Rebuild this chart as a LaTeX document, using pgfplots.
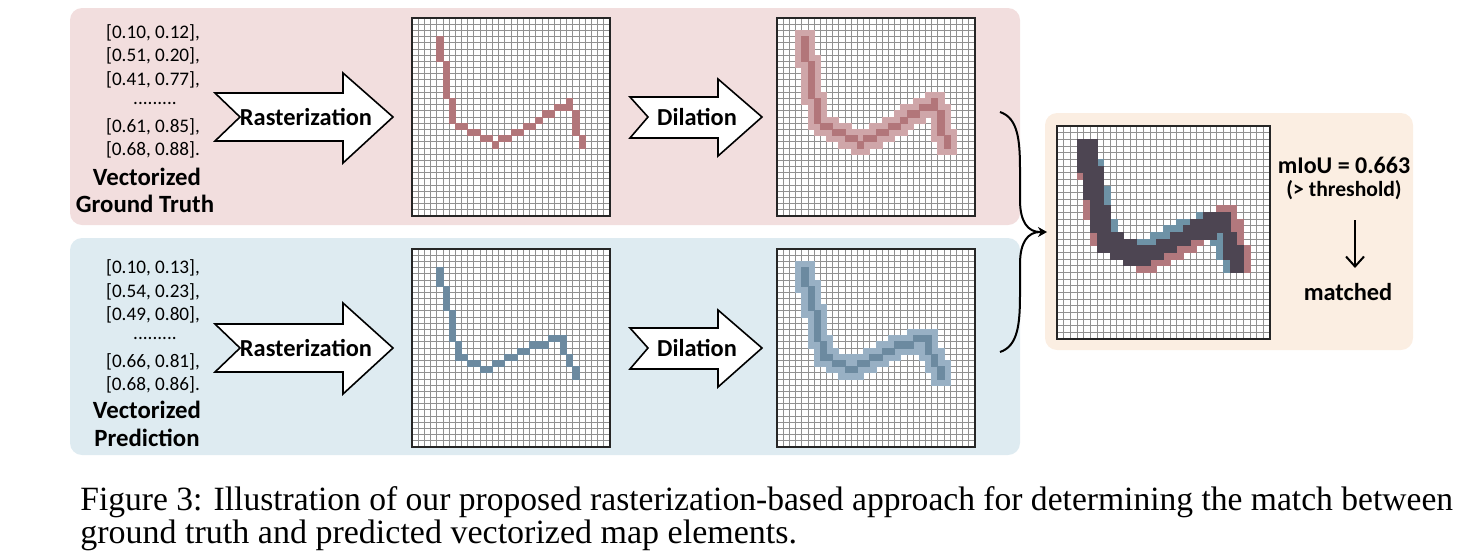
\documentclass[border=0pt]{standalone}
\usepackage{pgfplots}
\usepackage{pgfplotstable}
\pgfplotsset{compat=1.18}
\usetikzlibrary{arrows.meta}
\usepackage{fontspec}
\setmainfont{Carlito}
\newfontfamily\capfont{Liberation Serif}

\definecolor{pinkbg}{RGB}{242,222,222}
\definecolor{bluebg}{RGB}{222,235,241}
\definecolor{peachbg}{RGB}{251,238,226}
\definecolor{rred}{RGB}{178,118,122}
\definecolor{rblue}{RGB}{108,138,160}
\definecolor{lred}{RGB}{207,166,169}
\definecolor{lblue}{RGB}{152,176,196}
\definecolor{mred}{RGB}{178,120,125}
\definecolor{mblue}{RGB}{110,146,166}
\definecolor{mdark}{RGB}{77,69,82}
\definecolor{gridgray}{RGB}{145,145,145}

% rasterized ground truth (column, row)
\pgfplotstableread{
c r
4 3
4 4
4 5
4 6
5 7
5 8
5 9
5 10
5 11
5 12
6 13
6 14
6 15
6 16
7 17
8 17
9 18
10 18
11 19
12 19
13 20
14 19
15 19
16 18
17 18
18 17
19 17
20 16
21 15
22 15
23 14
24 14
25 13
25 14
26 15
26 16
26 17
26 18
27 19
27 20
}\gt

% rasterized prediction (column, row)
\pgfplotstableread{
c r
4 3
4 4
4 5
5 6
5 7
5 8
5 9
6 10
6 11
6 12
6 13
6 14
7 15
7 16
7 17
8 17
9 18
10 18
11 19
12 19
13 18
14 18
15 17
16 17
17 16
18 16
19 15
20 15
21 15
22 14
23 14
24 14
24 15
24 16
25 17
25 18
26 19
26 20
}\pred

% overlap of the two dilated masks
\pgfplotstableread{
c r
3 2
4 2
5 2
3 3
4 3
5 3
3 4
4 4
5 4
3 5
4 5
5 5
3 6
4 6
5 6
6 6
4 7
5 7
6 7
4 8
5 8
6 8
4 9
5 9
6 9
4 10
5 10
6 10
5 11
6 11
5 12
6 12
7 12
5 13
6 13
7 13
22 13
23 13
24 13
25 13
5 14
6 14
7 14
20 14
21 14
22 14
23 14
24 14
25 14
5 15
6 15
7 15
19 15
20 15
21 15
22 15
23 15
24 15
25 15
6 16
7 16
8 16
9 16
17 16
18 16
19 16
20 16
21 16
22 16
23 16
25 16
26 16
6 17
7 17
8 17
9 17
10 17
11 17
15 17
16 17
17 17
18 17
19 17
25 17
26 17
6 18
7 18
8 18
9 18
10 18
11 18
12 18
13 18
14 18
15 18
16 18
17 18
25 18
26 18
27 18
8 19
9 19
10 19
11 19
12 19
13 19
14 19
15 19
25 19
26 19
27 19
10 20
11 20
12 20
13 20
26 20
27 20
26 21
27 21
}\inter

\pgfplotsset{
  cellgrid/.style={
    scale only axis, width=#1, height=#1,
    xmin=-0.5, xmax=31.5, ymin=-0.5, ymax=31.5, y dir=reverse,
    enlargelimits=false,
    xtick={-0.5,0.5,...,31.5}, ytick={-0.5,0.5,...,31.5},
    xticklabels={}, yticklabels={},
    major tick length=0pt,
    grid=major, grid style={line width=0.42pt, draw=gridgray},
    axis line style={line width=1pt, draw=black!85},
    axis background/.style={fill=white},
    axis on top, anchor=north west, clip=true,
  },
  cells/.style n args={2}{only marks, mark=square*, mark size=#2,
    color=#1, mark options={draw=none, fill=#1}},
}

\begin{document}
\begin{tikzpicture}[x=0.5pt, y=-0.5pt]
\path[use as bounding box] (0,0) rectangle (1472,558);

% background panels
\fill[pinkbg, rounded corners=6pt] (70,8) rectangle (1020,225);
\fill[bluebg, rounded corners=6pt] (70,238) rectangle (1020,455);
\fill[peachbg, rounded corners=6pt] (1045,113) rectangle (1413,350);

% coordinate text
\begin{scope}[every node/.style={inner sep=0pt, font=\fontsize{9.6}{11}\selectfont}]
\node at (153,33) {[0.10, 0.12],};
\node at (153,56) {[0.51, 0.20],};
\node at (153,80) {[0.41, 0.77],};
\node at (155,103) {.........};
\node at (153,127) {[0.61, 0.85],};
\node at (153,150) {[0.68, 0.88].};
\node at (153,268) {[0.10, 0.13],};
\node at (153,292) {[0.54, 0.23],};
\node at (153,315) {[0.49, 0.80],};
\node at (155,338) {.........};
\node at (153,362) {[0.66, 0.81],};
\node at (153,385) {[0.68, 0.86].};
\end{scope}
\begin{scope}[every node/.style={inner sep=0pt, font=\bfseries\fontsize{12.4}{14}\selectfont}]
\node at (147,177) {Vectorized};
\node at (145,204) {Ground Truth};
\node at (147,410) {Vectorized};
\node at (147,438) {Prediction};
\end{scope}

% block arrows
\begin{scope}[draw=black, fill=white, line width=0.8pt, line join=miter]
\filldraw (215,93) -- (343,93) -- (343,73) -- (393,117) -- (343,163) -- (343,141) -- (215,141) -- (240,117) -- cycle;
\filldraw (215,324) -- (343,324) -- (343,303) -- (393,348) -- (343,394) -- (343,372) -- (215,372) -- (240,348) -- cycle;
\filldraw (630,97) -- (718,97) -- (718,79) -- (762,117) -- (718,156) -- (718,138) -- (630,138) -- (648,117) -- cycle;
\filldraw (630,328) -- (718,328) -- (718,310) -- (762,348) -- (718,387) -- (718,369) -- (630,369) -- (648,348) -- cycle;
\end{scope}
\begin{scope}[every node/.style={font=\bfseries\fontsize{12.2}{14}\selectfont}]
\node at (306,117) {Rasterization};
\node at (306,348) {Rasterization};
\node at (697,117) {Dilation};
\node at (697,348) {Dilation};
\end{scope}

% brace arrow
\draw[line width=1pt] (1000,112) .. controls (1018,118) and (1020,140) .. (1020,170) -- (1020,200) .. controls (1020,222) and (1028,232) .. (1040,232);
\draw[line width=1pt] (1000,352) .. controls (1018,346) and (1020,324) .. (1020,294) -- (1020,264) .. controls (1020,242) and (1028,232) .. (1040,232);
\draw[line width=1pt, -{Stealth[length=4.5pt, width=5pt]}] (1034,232) -- (1047,232);

% right-hand text
\node[font=\bfseries\fontsize{12}{14}\selectfont] at (1344,165) {mIoU = 0.663};
\node[font=\bfseries\fontsize{10.8}{13}\selectfont] at (1344,190) {(> threshold)};
\draw[line width=1pt, -{Straight Barb[length=5pt, width=9pt]}] (1355,220) -- (1355,268);
\node[font=\bfseries\fontsize{12.2}{14}\selectfont] at (1348,292) {matched};

% caption
\node[anchor=base west, inner sep=0pt, font=\capfont\fontsize{17}{20}\selectfont] at (80,510)
  {\scalebox{0.987}[1]{Figure 3: Illustration of our proposed rasterization-based approach for determining the match between}};
\node[anchor=base west, inner sep=0pt, font=\capfont\fontsize{17}{20}\selectfont] at (80,543)
  {ground truth and predicted vectorized map elements.};

% ---- grids ----
% GT raster
\begin{axis}[cellgrid=99pt, at={(206pt,-9pt)}]
\addplot[cells={rred}{1.546875pt}] table[x=c,y=r]{\gt};
\end{axis}
% GT dilation
\begin{axis}[cellgrid=99pt, at={(388.5pt,-9pt)}]
\addplot[cells={lred}{4.640625pt}] table[x=c,y=r]{\gt};
\addplot[cells={rred}{1.546875pt}] table[x=c,y=r]{\gt};
\end{axis}
% prediction raster
\begin{axis}[cellgrid=99pt, at={(206pt,-124.5pt)}]
\addplot[cells={rblue}{1.546875pt}] table[x=c,y=r]{\pred};
\end{axis}
% prediction dilation
\begin{axis}[cellgrid=99pt, at={(388.5pt,-124.5pt)}]
\addplot[cells={lblue}{4.640625pt}] table[x=c,y=r]{\pred};
\addplot[cells={rblue}{1.546875pt}] table[x=c,y=r]{\pred};
\end{axis}
% overlap
\begin{axis}[cellgrid=106.5pt, at={(528.5pt,-63pt)}]
\addplot[cells={mred}{4.9921875pt}] table[x=c,y=r]{\gt};
\addplot[cells={mblue}{4.9921875pt}] table[x=c,y=r]{\pred};
\addplot[cells={mdark}{1.6640625pt}] table[x=c,y=r]{\inter};
\end{axis}
\end{tikzpicture}
\end{document}
